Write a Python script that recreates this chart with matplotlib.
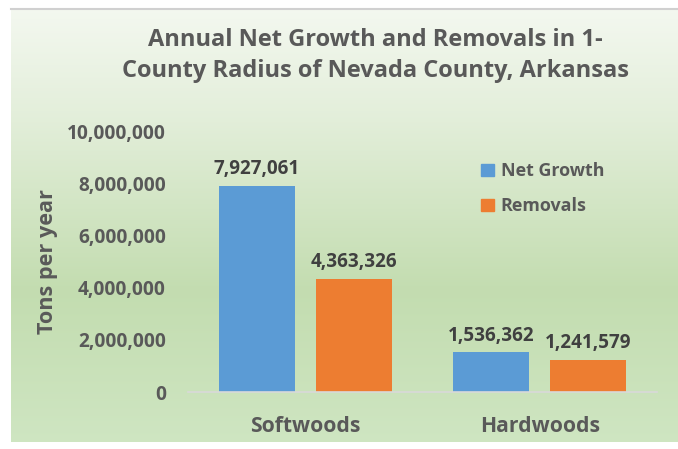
import numpy as np
import matplotlib
matplotlib.use("Agg")
import matplotlib.pyplot as plt
from matplotlib.patches import Patch
from matplotlib.ticker import FuncFormatter

# Datos
categories = ["Softwoods", "Hardwoods"]
series_names = ["Net Growth", "Removals"]
net_growth = [7927061, 1536362]
removals = [4363326, 1241579]
yticks = [0, 2000000, 4000000, 6000000, 8000000, 10000000]

blue = "#5b9bd5"
orange = "#ed7d31"
text_gray = "#595959"
dark_gray = "#404040"

plt.rcParams["font.family"] = ["Open Sans", "DejaVu Sans"]
plt.rcParams["font.weight"] = "bold"

W, H = 678, 449
fig = plt.figure(figsize=(W / 100, H / 100), dpi=100)
fig.patch.set_facecolor("white")

# Fondo con degradado verde (panel)
px0, px1, py0, py1 = 11, 678, 9, 442
bg = fig.add_axes([px0 / W, 1 - py1 / H, (px1 - px0) / W, (py1 - py0) / H], zorder=-1)
stops = np.array([0.0, 0.25, 0.65, 1.0])
cols = np.array([
    [0.955, 0.972, 0.940],
    [0.890, 0.935, 0.855],
    [0.765, 0.865, 0.690],
    [0.810, 0.900, 0.760],
])
t = np.linspace(0, 1, 300)
grad = np.stack([np.interp(t, stops, cols[:, i]) for i in range(3)], axis=-1)
bg.imshow(grad[:, None, :], aspect="auto", extent=[0, 1, 0, 1])
bg.set_xticks([])
bg.set_yticks([])
for s in ["left", "right", "bottom"]:
    bg.spines[s].set_visible(False)
bg.spines["top"].set_color("#d0d0d0")
bg.spines["top"].set_linewidth(1.5)

# Ejes principales
ax_l, ax_r, ax_t, ax_b = 188, 657, 132, 392
ax = fig.add_axes([ax_l / W, 1 - ax_b / H, (ax_r - ax_l) / W, (ax_b - ax_t) / H])
ax.patch.set_alpha(0)

x = np.arange(len(categories))
width = 0.325
offset = 0.207
b1 = ax.bar(x - offset, net_growth, width, color=blue, label=series_names[0])
b2 = ax.bar(x + offset, removals, width, color=orange, label=series_names[1])

for bars, vals in [(b1, net_growth), (b2, removals)]:
    for bar, v in zip(bars, vals):
        ax.text(bar.get_x() + bar.get_width() / 2, v + 250000, f"{v:,}",
                ha="center", va="bottom", fontsize=13.6, color=dark_gray, fontweight="bold")

ax.set_xlim(-0.5, 1.5)
ax.set_ylim(0, 10000000)
ax.set_yticks(yticks)
ax.yaxis.set_major_formatter(FuncFormatter(lambda v, p: f"{int(v):,}"))
ax.set_xticks(x)
ax.set_xticklabels(categories, fontweight="bold")
for lbl in ax.get_yticklabels():
    lbl.set_fontweight("bold")
ax.tick_params(axis="y", length=0, pad=16, labelsize=13.8, labelcolor=text_gray)
ax.tick_params(axis="x", length=0, pad=17, labelsize=15.2, labelcolor=text_gray)
for s in ["left", "right", "top"]:
    ax.spines[s].set_visible(False)
ax.spines["bottom"].set_color("#d9d9d9")
ax.spines["bottom"].set_linewidth(1.2)

fig.text(48 / W, 1 - 262 / H, "Tons per year", rotation=90, ha="center", va="center",
         fontsize=15.6, color=text_gray, fontweight="bold")

fig.text(375 / W, 1 - 40 / H, "Annual Net Growth and Removals in 1-", ha="center", va="center",
         fontsize=17, color=text_gray, fontweight="bold")
fig.text(375 / W, 1 - 71 / H, "County Radius of Nevada County, Arkansas", ha="center", va="center",
         fontsize=17, color=text_gray, fontweight="bold")

handles = [Patch(color=blue), Patch(color=orange)]
leg = fig.legend(handles, series_names, loc="upper left",
                 bbox_to_anchor=(465 / W, 1 - 146 / H), frameon=False,
                 prop={"size": 12.9, "weight": "bold"}, labelspacing=0.95,
                 handlelength=0.7, handleheight=0.7, handletextpad=0.4)
for txt in leg.get_texts():
    txt.set_color(text_gray)

fig.savefig("out.png", dpi=100)
